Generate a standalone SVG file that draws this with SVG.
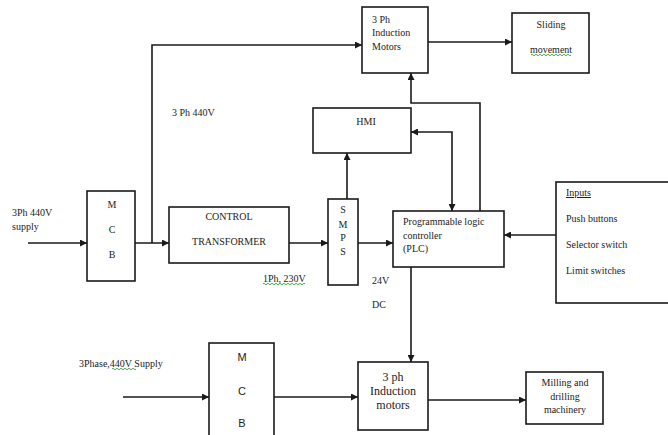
<svg xmlns="http://www.w3.org/2000/svg" width="668" height="435" viewBox="0 0 668 435">
<defs>
<marker id="ah" viewBox="0 0 10 10" refX="10" refY="5" markerWidth="7" markerHeight="7" markerUnits="userSpaceOnUse" orient="auto-start-reverse">
<path d="M0,0 L10,5 L0,10 z" fill="#1a1a1a"/>
</marker>
<style>
.box{fill:#fff;stroke:#1a1a1a;stroke-width:1.6}
.ln{fill:none;stroke:#1a1a1a;stroke-width:1.6}
text{font-family:"Liberation Serif","Times New Roman",serif;font-size:10px;fill:#222}
.c{text-anchor:middle}
.sans{font-family:"Liberation Sans",Arial,sans-serif;font-size:11px}
.big{font-size:12px}
.sq{fill:none;stroke:#3a9a3a;stroke-width:0.9}
</style>
</defs>
<rect width="668" height="435" fill="#fff"/>

<g id="connectors">
<path class="ln" d="M28,243 H87" marker-end="url(#ah)"/>
<path class="ln" d="M135,243 H169" marker-end="url(#ah)"/>
<path class="ln" d="M152,243 V45 H362" marker-end="url(#ah)"/>
<path class="ln" d="M289,243 H328" marker-end="url(#ah)"/>
<path class="ln" d="M347,199 V153" marker-end="url(#ah)"/>
<path class="ln" d="M358,243 H393" marker-end="url(#ah)"/>
<path class="ln" d="M411,132 H452 V211" marker-start="url(#ah)" marker-end="url(#ah)"/>
<path class="ln" d="M480,211 V103 H411 V73" marker-end="url(#ah)"/>
<path class="ln" d="M428,42 H512" marker-end="url(#ah)"/>
<path class="ln" d="M556,235 H504" marker-end="url(#ah)"/>
<path class="ln" d="M411,267 V362" marker-end="url(#ah)"/>
<path class="ln" d="M123,397 H209" marker-end="url(#ah)"/>
<path class="ln" d="M274,397 H358" marker-end="url(#ah)"/>
<path class="ln" d="M428,400 H526" marker-end="url(#ah)"/>
</g>

<g id="labels">
<text x="12" y="216">3Ph 440V</text>
<text x="12" y="230">supply</text>
<text x="172" y="116">3 Ph 440V</text>
<text x="263" y="282">1Ph, 230V</text>
<path class="sq" d="M263,284 q1,-1.5 2,0 t2,0 t2,0 t2,0 t2,0 t2,0 t2,0 t2,0 t2,0 t2,0 t2,0 t2,0 t2,0 t2,0 t2,0 t2,0 t2,0 t2,0 t2,0 t2,0 t2,0"/>
<text x="372" y="284">24V</text>
<text x="372" y="308">DC</text>
<text x="79" y="367">3Phase,440V Supply</text>
<path class="sq" d="M112,369 q1,-1.5 2,0 t2,0 t2,0 t2,0 t2,0 t2,0 t2,0 t2,0 t2,0 t2,0 t2,0 t2,0"/>
</g>

<g id="mcb1">
<rect class="box" x="87" y="191" width="48" height="90"/>
<text class="c" x="112" y="208">M</text>
<text class="c" x="112" y="233">C</text>
<text class="c" x="112" y="258">B</text>
</g>

<g id="control-transformer">
<rect class="box" x="169" y="207" width="120" height="56"/>
<text class="c" x="229" y="220">CONTROL</text>
<text class="c" x="229" y="245">TRANSFORMER</text>
</g>

<g id="smps">
<rect class="box" x="328" y="199" width="30" height="86"/>
<text class="c" x="343" y="213">S</text>
<text class="c" x="343" y="228">M</text>
<text class="c" x="343" y="241">P</text>
<text class="c" x="343" y="255">S</text>
</g>

<g id="hmi">
<rect class="box" x="313" y="108" width="98" height="45"/>
<text class="c" x="366" y="125">HMI</text>
</g>

<g id="motors-top">
<rect class="box" x="362" y="7" width="66" height="66"/>
<text x="372" y="23">3 Ph</text>
<text x="372" y="36">Induction</text>
<text x="372" y="50">Motors</text>
</g>

<g id="sliding">
<rect class="box" x="512" y="13" width="77" height="60"/>
<text class="c" x="551" y="28">Sliding</text>
<text class="c" x="551" y="53">movement</text>
<path class="sq" d="M531,55 q1,-1.5 2,0 t2,0 t2,0 t2,0 t2,0 t2,0 t2,0 t2,0 t2,0 t2,0 t2,0 t2,0 t2,0 t2,0 t2,0 t2,0 t2,0 t2,0 t2,0 t2,0"/>
</g>

<g id="plc">
<rect class="box" x="393" y="211" width="111" height="56"/>
<text x="403" y="225">Programmable logic</text>
<text x="403" y="239">controller</text>
<text x="403" y="252">(PLC)</text>
</g>

<g id="inputs">
<rect class="box" x="556" y="182" width="130" height="121"/>
<text x="566" y="196" text-decoration="underline">Inputs</text>
<text x="566" y="222">Push buttons</text>
<text x="566" y="248">Selector switch</text>
<text x="566" y="274">Limit switches</text>
</g>

<g id="mcb2">
<rect class="box" x="209" y="343" width="65" height="100"/>
<text class="c sans" x="242" y="361">M</text>
<text class="c sans" x="242" y="395">C</text>
<text class="c sans" x="242" y="427">B</text>
</g>

<g id="motors-bottom">
<rect class="box" x="358" y="362" width="70" height="68"/>
<text class="c big" x="393" y="381">3 ph</text>
<text class="c big" x="393" y="395">Induction</text>
<text class="c big" x="393" y="409">motors</text>
</g>

<g id="milling">
<rect class="box" x="526" y="372" width="77" height="52"/>
<text class="c" x="565" y="386">Milling and</text>
<text class="c" x="565" y="400">drilling</text>
<text class="c" x="565" y="413">machinery</text>
</g>
</svg>
